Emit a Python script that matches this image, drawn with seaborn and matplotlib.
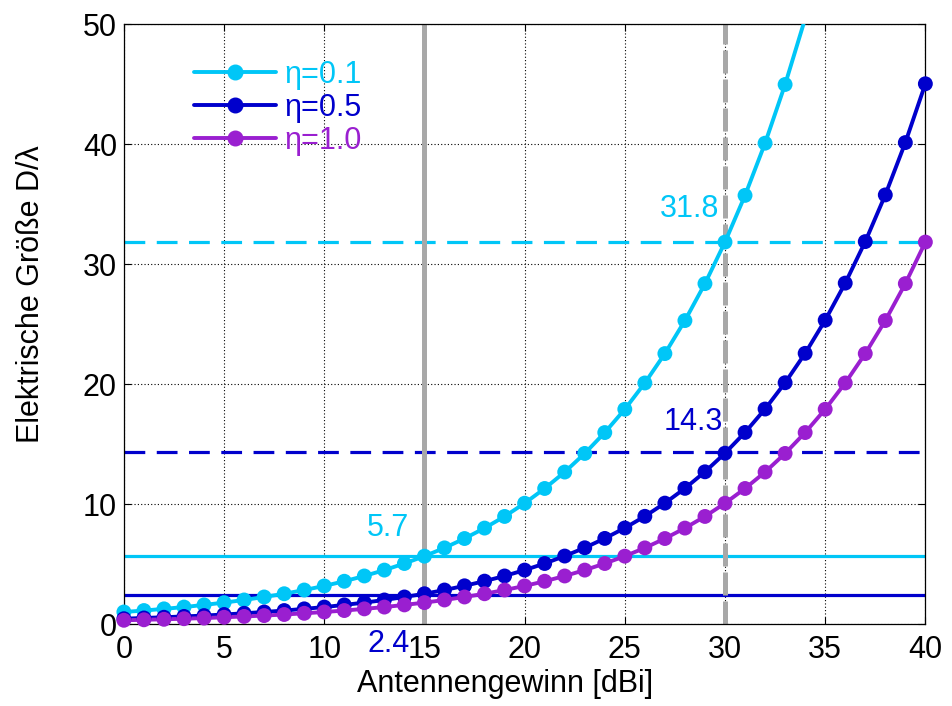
import matplotlib
matplotlib.use("Agg")
import matplotlib.pyplot as plt
from matplotlib.lines import Line2D
import seaborn as sns
import pandas as pd

# Gain in dBi
gain_01 = list(range(0, 35))
gain = list(range(0, 41))

# D/lambda for eta = 0.1, 0.5, 1.0
d_eta01 = [1.01, 1.13, 1.27, 1.42, 1.60, 1.79, 2.01, 2.26, 2.53, 2.84,
           3.18, 3.57, 4.01, 4.50, 5.05, 5.66, 6.35, 7.13, 8.00, 8.97,
           10.07, 11.30, 12.67, 14.22, 15.96, 17.90, 20.09, 22.54, 25.29, 28.37,
           31.83, 35.72, 40.07, 44.96, 50.45]
d_eta05 = [0.45, 0.51, 0.57, 0.64, 0.71, 0.80, 0.90, 1.01, 1.13, 1.27,
           1.42, 1.60, 1.79, 2.01, 2.26, 2.53, 2.84, 3.19, 3.58, 4.01,
           4.50, 5.05, 5.67, 6.36, 7.14, 8.01, 8.98, 10.08, 11.31, 12.69,
           14.24, 15.97, 17.92, 20.11, 22.56, 25.32, 28.41, 31.87, 35.76, 40.12,
           45.02]
d_eta10 = [0.32, 0.36, 0.40, 0.45, 0.50, 0.57, 0.64, 0.71, 0.80, 0.90,
           1.01, 1.13, 1.27, 1.42, 1.60, 1.79, 2.01, 2.26, 2.53, 2.84,
           3.18, 3.57, 4.01, 4.50, 5.05, 5.66, 6.35, 7.13, 8.00, 8.97,
           10.07, 11.30, 12.67, 14.22, 15.96, 17.90, 20.09, 22.54, 25.29, 28.37,
           31.83]
labels = ["η=0.1", "η=0.5", "η=1.0"]

# reference lines
h_solid = [5.7, 2.4]
h_dashed = [31.8, 14.3]
v_solid = [15]
v_dashed = [30]
ann_texts = ["31.8", "14.3", "5.7", "2.4"]

c_cyan = "#00C6F7"
c_blue = "#0000CC"
c_purple = "#9A1FD0"
c_gray = "#A8A8A8"
FS = 22

sns.set_style("white")
plt.rcParams["font.family"] = ["Liberation Sans", "DejaVu Sans"]
plt.rcParams["text.color"] = "black"
plt.rcParams["axes.labelcolor"] = "black"
plt.rcParams["xtick.color"] = "black"
plt.rcParams["ytick.color"] = "black"

fig = plt.figure(figsize=(9.53, 7.06), dpi=100)
ax = fig.add_axes([0.130, 0.116, 0.841, 0.850])

ax.set_xlim(0, 40)
ax.set_ylim(0, 50)
ax.set_xticks(range(0, 41, 5))
ax.set_yticks(range(0, 51, 10))
ax.grid(True, color="black", linestyle=(0, (1, 2)), linewidth=0.8)
for s in ax.spines.values():
    s.set_color("black")
    s.set_linewidth(0.9)
ax.tick_params(labelsize=FS, direction="in", length=5, width=0.8,
               top=True, right=True, bottom=True, left=True,
               colors="black", labelcolor="black")
ax.tick_params(axis="x", pad=8)
ax.tick_params(axis="y", pad=5)

# horizontal / vertical reference lines
ax.axhline(h_solid[0], color=c_cyan, lw=2.3, zorder=2)
ax.axhline(h_solid[1], color=c_blue, lw=2.3, zorder=2)
ax.axhline(h_dashed[0], color=c_cyan, lw=2.3, dashes=(6.5, 3.6), zorder=2)
ax.axhline(h_dashed[1], color=c_blue, lw=2.3, dashes=(6.5, 3.6), zorder=2)
ax.axvline(v_solid[0], color=c_gray, lw=3.6, zorder=2)
ax.axvline(v_dashed[0], color=c_gray, lw=3.6, dashes=(4.6, 1.2), zorder=2)

series = [(gain_01, d_eta01, c_cyan), (gain, d_eta05, c_blue), (gain, d_eta10, c_purple)]
handles = []
for (x, y, c), lab in zip(series, labels):
    df = pd.DataFrame({"g": x, "d": y})
    sns.lineplot(data=df, x="g", y="d", ax=ax, color=c, lw=2.8, zorder=3)
    dfm = df[df["d"] <= 50]
    sns.scatterplot(data=dfm, x="g", y="d", ax=ax, color=c, s=115,
                    edgecolor="none", zorder=4, clip_on=False)
    handles.append(Line2D([0], [0], color=c, lw=2.8, marker="o", markersize=10.5))

leg = ax.legend(handles, labels, loc="upper left", bbox_to_anchor=(0.087, 0.94),
                frameon=False, fontsize=FS, handlelength=2.7, handletextpad=0.27,
                labelspacing=0.1, borderaxespad=0, borderpad=0)
for t, h in zip(leg.get_texts(), handles):
    t.set_color(h.get_color())

ax.text(28.23, 34.6, ann_texts[0], color=c_cyan, fontsize=FS, ha="center", va="center")
ax.text(28.4, 16.8, ann_texts[1], color=c_blue, fontsize=FS, ha="center", va="center")
ax.text(13.2, 8.0, ann_texts[2], color=c_cyan, fontsize=FS, ha="center", va="center")
ax.text(13.2, -1.67, ann_texts[3], color=c_blue, fontsize=FS, ha="center", va="center",
        clip_on=False)

ax.set_xlabel("Antennengewinn [dBi]", fontsize=FS, color="black")
ax.set_ylabel("Elektrische Größe D/λ", fontsize=FS, color="black")
ax.xaxis.set_label_coords(0.476, -0.075)
ax.yaxis.set_label_coords(-0.097, 0.55)

fig.savefig("out.png", dpi=100)
